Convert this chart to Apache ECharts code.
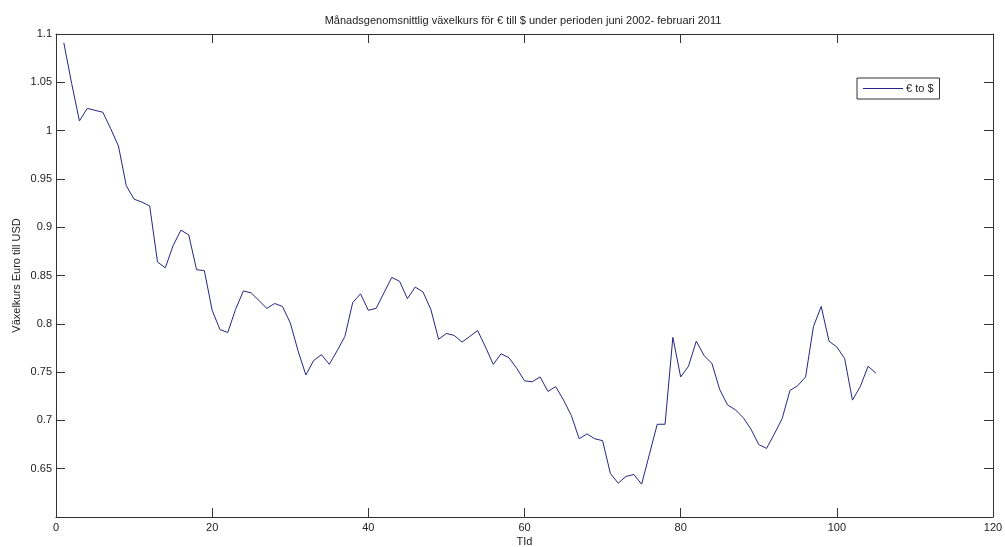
<!DOCTYPE html>
<html>
<head>
<meta charset="utf-8">
<script src="https://cdn.jsdelivr.net/npm/echarts@6/dist/echarts.min.js"></script>
<style>html,body{margin:0;padding:0;background:#fff}#c{width:1005px;height:547px}</style>
</head>
<body>
<div id="c"></div>
<script>
var titleText = 'Månadsgenomsnittlig växelkurs för € till $ under perioden juni 2002- februari 2011';
var seriesName = '€ to $';
var xName = 'TId';
var yName = 'Växelkurs Euro till USD';
var xTicks = [0, 20, 40, 60, 80, 100, 120];
var yTicks = [0.6, 0.65, 0.7, 0.75, 0.8, 0.85, 0.9, 0.95, 1, 1.05, 1.1];
var rates = [
  1.091, 1.049, 1.010, 1.023, 1.021, 1.019, 1.002, 0.984, 0.943, 0.929,
  0.926, 0.922, 0.864, 0.858, 0.881, 0.897, 0.892, 0.856, 0.855, 0.814,
  0.794, 0.791, 0.815, 0.834, 0.832, 0.824, 0.816, 0.821, 0.818, 0.801,
  0.772, 0.747, 0.762, 0.768, 0.758, 0.772, 0.787, 0.822, 0.831, 0.814,
  0.816, 0.832, 0.848, 0.844, 0.826, 0.838, 0.833, 0.815, 0.784, 0.790,
  0.788, 0.781, 0.787, 0.793, 0.776, 0.758, 0.769, 0.765, 0.754, 0.741,
  0.740, 0.745, 0.730, 0.735, 0.721, 0.705, 0.681, 0.686, 0.681, 0.679,
  0.645, 0.635, 0.642, 0.644, 0.634, 0.665, 0.696, 0.696, 0.786, 0.745,
  0.756, 0.782, 0.767, 0.759, 0.732, 0.716, 0.711, 0.703, 0.691, 0.675,
  0.671, 0.686, 0.702, 0.731, 0.736, 0.745, 0.797, 0.818, 0.782, 0.776,
  0.764, 0.721, 0.735, 0.756, 0.749
];

var points = rates.map(function (v, i) { return [i + 1, v]; });
var FONT = 'Liberation Sans, Arial, Helvetica, sans-serif';
var TXT = '#222';
var AX = '#333';
var xMin = xTicks[0], xMax = xTicks[xTicks.length - 1], xInt = xTicks[1] - xTicks[0];
var yMin = yTicks[0], yMax = yTicks[yTicks.length - 1], yInt = 0.05;

function xAx(pos, labels) {
  return {
    type: 'value', position: pos, min: xMin, max: xMax, interval: xInt,
    name: labels ? xName : '', nameLocation: 'middle', nameGap: 19, nameMoveOverlap: false,
    nameTextStyle: { fontFamily: FONT, fontSize: 11, color: TXT },
    axisLine: { show: true, onZero: false, lineStyle: { color: AX, width: 1 } },
    axisTick: { show: true, inside: true, length: 9, lineStyle: { color: AX } },
    axisLabel: { show: labels, margin: 5, fontFamily: FONT, fontSize: 11, color: TXT },
    splitLine: { show: false }
  };
}
function yAx(pos, labels) {
  return {
    type: 'value', position: pos, min: yMin, max: yMax, interval: yInt,
    name: labels ? yName : '', nameLocation: 'middle', nameGap: 34, nameRotate: 90, nameMoveOverlap: false,
    nameTextStyle: { fontFamily: FONT, fontSize: 11, color: TXT },
    axisLine: { show: true, onZero: false, lineStyle: { color: AX, width: 1 } },
    axisTick: { show: true, inside: true, length: 9, lineStyle: { color: AX } },
    axisLabel: { show: labels, showMinLabel: false, margin: 4, fontFamily: FONT, fontSize: 11, color: TXT },
    splitLine: { show: false }
  };
}

var chart = echarts.init(document.getElementById('c'), null, { renderer: 'canvas' });
chart.setOption({
  animation: false,
  backgroundColor: '#fff',
  title: {
    text: titleText, left: 523, top: 15, textAlign: 'center', padding: 0,
    textStyle: { fontFamily: FONT, fontSize: 11, fontWeight: 'normal', color: TXT }
  },
  legend: {
    data: [seriesName], left: 857, top: 78,
    orient: 'horizontal',
    borderColor: '#333', borderWidth: 1, padding: [5, 6, 5, 6],
    backgroundColor: '#fff',
    icon: 'rect', itemWidth: 40, itemHeight: 1, itemGap: 2,
    textStyle: { fontFamily: FONT, fontSize: 11, color: TXT, padding: [0, 0, 0, -2] }
  },
  grid: { left: 56, right: 12, top: 34, bottom: 30, containLabel: false, outerBoundsMode: 'none' },
  xAxis: [xAx('bottom', true), xAx('top', false)],
  yAxis: [yAx('left', true), yAx('right', false)],
  series: [{
    name: seriesName, type: 'line', data: points,
    showSymbol: false, symbol: 'none',
    lineStyle: { color: '#262680', width: 1 },
    itemStyle: { color: '#262680' }
  }]
});
</script>
</body>
</html>
